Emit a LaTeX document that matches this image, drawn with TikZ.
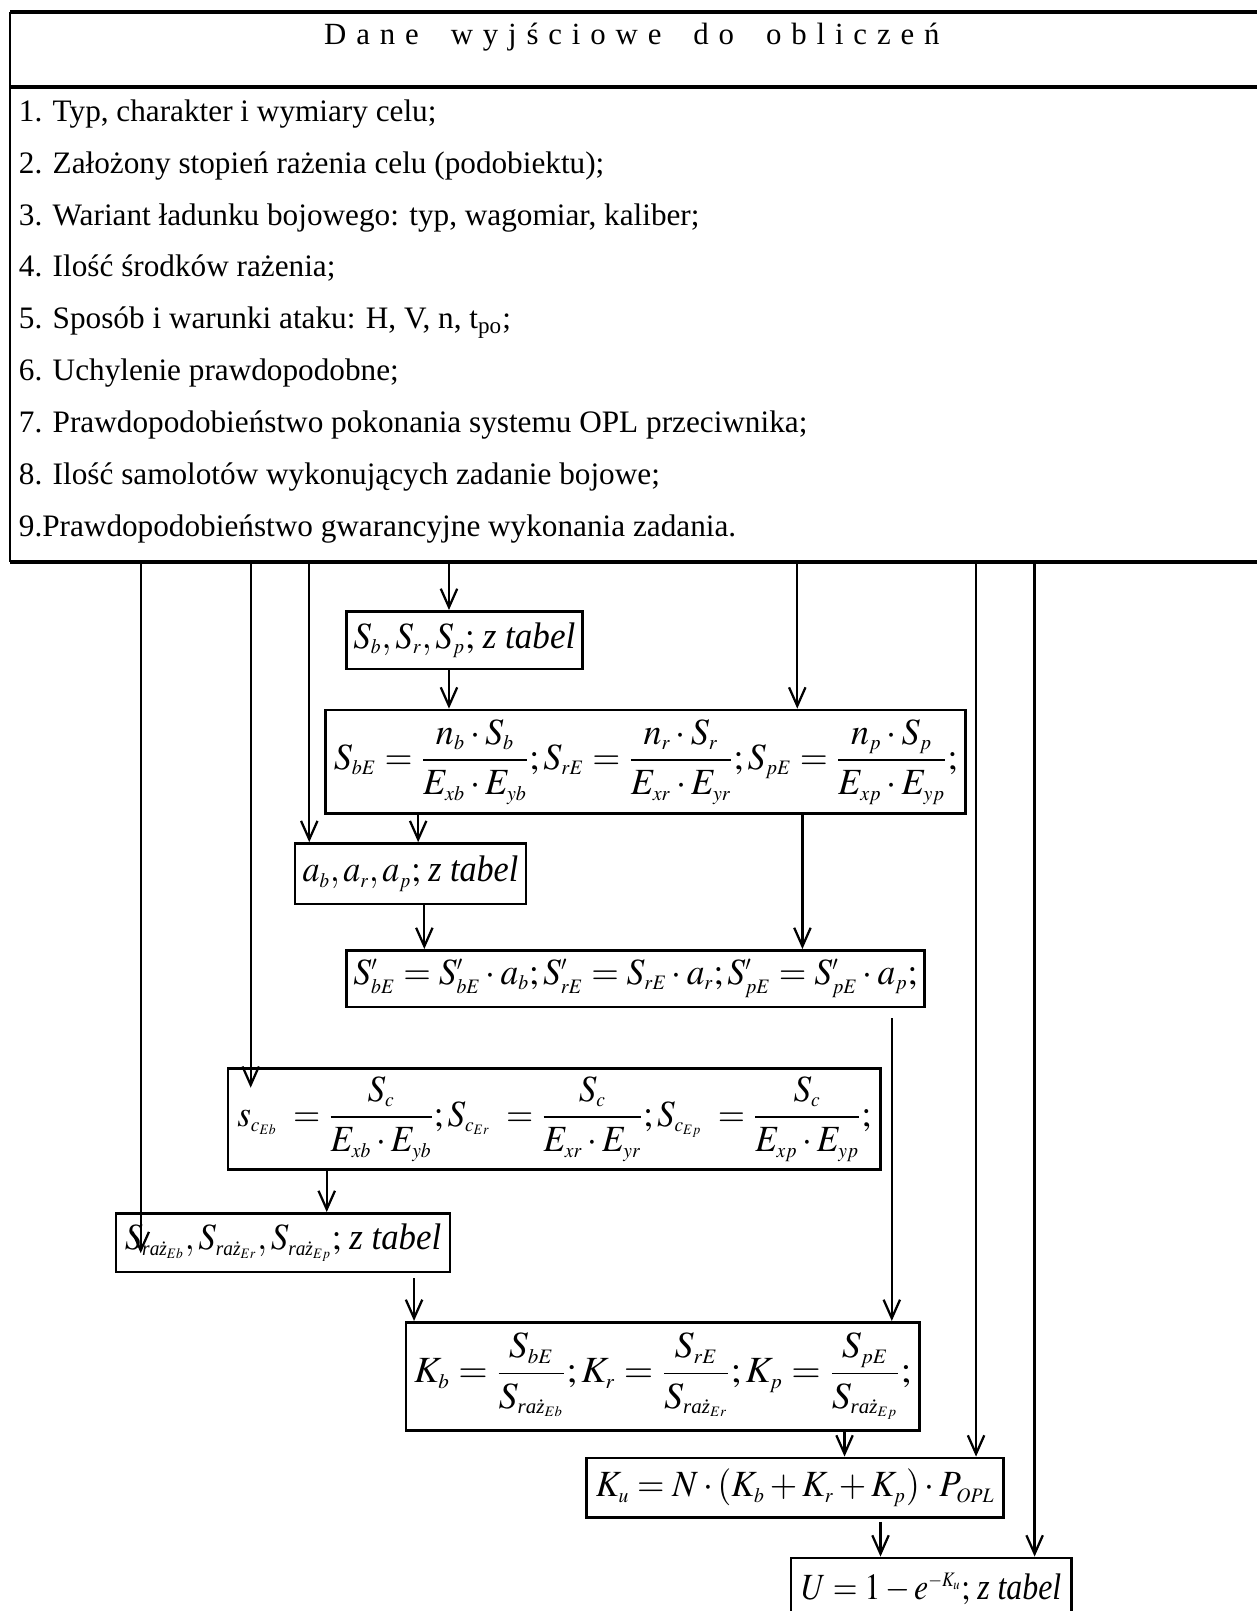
\documentclass[tikz,border=0pt]{standalone}
\usepackage{amsmath}
\usepackage{graphicx}
\usepackage{mathptmx}
\usepackage{fontspec}
\setmainfont{Liberation Serif}
\newfontfamily\spaced[LetterSpace=32]{Liberation Serif}
\usetikzlibrary{arrows.meta,calc}
\DeclareMathSizes{18}{18}{10}{7}
\newcommand{\rz}{\text{\itshape raż}}
\newcommand{\fitw}[2]{\resizebox{#1}{\height}{#2}}
\begin{document}
\begin{tikzpicture}[x=0.5pt,y=-0.5pt,
  box/.style={draw, line width=1.3pt, inner sep=0pt, font=\fontsize{18}{21}\selectfont},
  item/.style={anchor=base west, inner sep=0pt, font=\fontsize{15.2}{18}\selectfont},
  arr/.style={line width=1.1pt, -{Straight Barb[length=9pt,width=8pt,line width=1.1pt]}},
  thick border/.style={line width=2pt},
  thin border/.style={line width=1pt}]
\useasboundingbox (0,0) rectangle (1223,1568);
% top box
\node[minimum width=620pt, minimum height=267pt, anchor=north west, inner sep=0pt] (top) at (10,12) {};
\coordinate (dv) at (10,85);
\draw[thick border] (top.north west) -- (top.north east);
\draw[thick border] (dv) -- (dv -| top.east);
\draw[thick border] (top.south west) -- (top.south east);
\draw[thin border] (top.north west) -- (top.south west);
\node[font=\fontsize{15}{18}\selectfont] (hdr) at (615,36) {\spaced Dane\hspace{7pt} wyjściowe\hspace{7pt} do\hspace{7pt} obliczeń};
\node[item] (i1) at (18,118) {1. Typ, charakter i wymiary celu;};
\node[item] (i2) at (18,168.5) {2. Założony stopień rażenia celu (podobiektu);};
\node[item] (i3) at (18,219) {3. Wariant ładunku bojowego: typ, wagomiar, kaliber;};
\node[item] (i4) at (18,269.5) {4. Ilość środków rażenia;};
\node[item] (i5) at (18,320) {5. Sposób i warunki ataku: H, V, n, t\textsubscript{po};};
\node[item] (i6) at (18,370.5) {6. Uchylenie prawdopodobne;};
\node[item] (i7) at (18,421) {7. Prawdopodobieństwo pokonania systemu OPL przeciwnika;};
\node[item] (i8) at (18,471.5) {8. Ilość samolotów wykonujących zadanie bojowe;};
\node[item] (i9) at (18,522) {9.Prawdopodobieństwo gwarancyjne wykonania zadania.};
% boxes
\node[box, minimum width=115pt, minimum height=28pt] (A) at (452,623) {\fitw{108pt}{$S_b,S_r,S_p;\,\textit{z tabel}$}};
\node[box, minimum width=311.5pt, minimum height=50.5pt] (B) at (628.5,741.5) {\fitw{303.5pt}{$\displaystyle S_{bE}=\frac{n_b\cdot S_b}{E_{xb}\cdot E_{yb}};S_{rE}=\frac{n_r\cdot S_r}{E_{xr}\cdot E_{yr}};S_{pE}=\frac{n_p\cdot S_p}{E_{xp}\cdot E_{yp}};$}};
\node[box, minimum width=112.5pt, minimum height=29.5pt] (C) at (399.5,850.5) {\fitw{105pt}{$a_b,a_r,a_p;\,\textit{z tabel}$}};
\node[box, minimum width=281.5pt, minimum height=27.5pt] (D) at (618.5,952.5) {\fitw{274.5pt}{$S'_{bE}=S'_{bE}\cdot a_b;S'_{rE}=S_{rE}\cdot a_r;S'_{pE}=S'_{pE}\cdot a_p;$}};
\node[box, minimum width=317.5pt, minimum height=49pt] (E) at (539.5,1089) {\fitw{308.5pt}{$\displaystyle s_{c_{Eb}}\;=\frac{S_c}{E_{xb}\cdot E_{yb}};S_{c_{Er}}\;=\frac{S_c}{E_{xr}\cdot E_{yr}};S_{c_{Ep}}\;=\frac{S_c}{E_{xp}\cdot E_{yp}};$}};
\node[box, minimum width=162.5pt, minimum height=28.5pt] (G) at (275.5,1209.5) {\fitw{154pt}{$S_{\rz_{Eb}},S_{\rz_{Er}},S_{\rz_{Ep}};\,\textit{z tabel}$}};
\node[box, minimum width=250pt, minimum height=52.5pt] (F) at (645,1339.5) {\fitw{242pt}{$\displaystyle K_b=\frac{S_{bE}}{S_{\rz_{Eb}}};K_r=\frac{S_{rE}}{S_{\rz_{Er}}};K_p=\frac{S_{pE}}{S_{\rz_{Ep}}};$}};
\node[box, minimum width=203pt, minimum height=29pt] (H) at (774,1448) {\fitw{194pt}{$K_u=N\cdot(K_b+K_r+K_p)\cdot P_{OPL}$}};
\node[box, minimum width=136.5pt, minimum height=30pt, anchor=north] (I) at (906.5,1515) {\fitw{126.5pt}{$U=1-e^{-K_u};\,\textit{z tabel}$}};
% x positions of connectors
\coordinate (x137) at (137,0);
\coordinate (x244) at (244,0);
\coordinate (x301) at (301,0);
\coordinate (x437) at (437,0);
\coordinate (x776) at (776,0);
\coordinate (x950) at (950,0);
\coordinate (x1007) at (1007,0);
\coordinate (x407) at (407,0);
\coordinate (x781) at (781,0);
\coordinate (x413) at (413,0);
\coordinate (x868) at (868,0);
\coordinate (x318) at (318,0);
\coordinate (x403) at (403,0);
\coordinate (x822) at (822,0);
\coordinate (x857) at (857,0);
% connectors from the data box
\draw[arr] (top.south -| x137) -- ($(G.north -| x137)+(0,40)$);
\draw[arr] (top.south -| x244) -- ($(E.north -| x244)+(0,20)$);
\draw[arr] (top.south -| x301) -- (C.north -| x301);
\draw[arr] (top.south -| x437) -- (A.north -| x437);
\draw[arr] (top.south -| x776) -- (B.north -| x776);
\draw[arr] (top.south -| x950) -- (H.north -| x950);
\draw[arr] (top.south -| x1007) -- (I.north -| x1007);
% box to box
\draw[arr] (A.south -| x437) -- (B.north -| x437);
\draw[arr] (B.south -| x407) -- (C.north -| x407);
\draw[arr] (B.south -| x781) -- (D.north -| x781);
\draw[arr] (C.south -| x413) -- (D.north -| x413);
\draw[arr] ($(D.south -| x868)+(0,10)$) -- (F.north -| x868);
\draw[arr] (E.south -| x318) -- (G.north -| x318);
\draw[arr] ($(G.south -| x403)+(0,5)$) -- (F.north -| x403);
\draw[arr] (F.south -| x822) -- (H.north -| x822);
\draw[arr] ($(H.south -| x857)+(0,3)$) -- (I.north -| x857);
\end{tikzpicture}
\end{document}
